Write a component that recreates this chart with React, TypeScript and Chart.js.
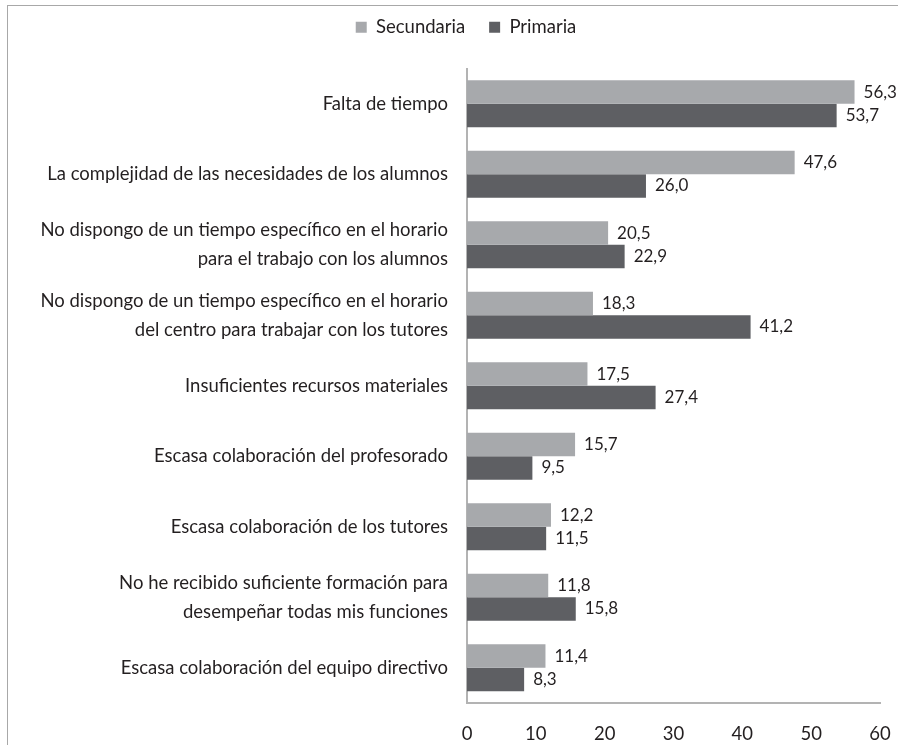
import React, { useEffect, useRef } from "react";
import { Chart, registerables } from "chart.js";

Chart.register(...registerables);

const categories: (string | string[])[] = [
  "Falta de tiempo",
  "La complejidad de las necesidades de los alumnos",
  ["No dispongo de un tiempo específico en el horario", "para el trabajo con los alumnos"],
  ["No dispongo de un tiempo específico en el horario", "del centro para trabajar con los tutores"],
  "Insuficientes recursos materiales",
  "Escasa colaboración del profesorado",
  "Escasa colaboración de los tutores",
  ["No he recibido suficiente formación para", "desempeñar todas mis funciones"],
  "Escasa colaboración del equipo directivo",
];

const secundaria = [56.3, 47.6, 20.5, 18.3, 17.5, 15.7, 12.2, 11.8, 11.4];
const primaria = [53.7, 26.0, 22.9, 41.2, 27.4, 9.5, 11.5, 15.8, 8.3];

const xTicks = [0, 10, 20, 30, 40, 50, 60];

const FONT = "Lato";
const FS = 18.5;
const VFS = 17;
const TEXT = "#231f20";
const LIGHT = "#a7a9ac";
const DARK = "#5e5f63";
const AXIS = "#b3b3b3";

const legendSpacing = {
  id: "legendSpacing",
  beforeInit(chart: any) {
    const legend = chart.legend;
    const origFit = legend.fit;
    legend.fit = function () {
      origFit.call(this);
      this.height += 22;
    };
    const origDraw = legend.draw;
    legend.draw = function (...args: any[]) {
      const ctx = this.ctx;
      ctx.save();
      ctx.translate(22, 0);
      origDraw.apply(this, args);
      ctx.restore();
    };
  },
};

const valueLabels = {
  id: "valueLabels",
  afterDatasetsDraw(chart: any) {
    const ctx = chart.ctx;
    ctx.save();
    ctx.font = `${VFS}px ${FONT}`;
    ctx.fillStyle = TEXT;
    ctx.textAlign = "left";
    ctx.textBaseline = "middle";
    chart.data.datasets.forEach((ds: any, i: number) => {
      const meta = chart.getDatasetMeta(i);
      meta.data.forEach((bar: any, j: number) => {
        const v = ds.data[j] as number;
        ctx.fillText(v.toFixed(1).replace(".", ","), bar.x + 9, bar.y);
      });
    });
    ctx.restore();
  },
};

export default function App() {
  const ref = useRef<HTMLCanvasElement>(null);
  useEffect(() => {
    if (!ref.current) return;
    const chart = new Chart(ref.current, {
      type: "bar",
      data: {
        labels: categories,
        datasets: [
          { label: "Secundaria", data: secundaria, backgroundColor: LIGHT },
          { label: "Primaria", data: primaria, backgroundColor: DARK },
        ],
      },
      options: {
        indexAxis: "y",
        responsive: false,
        animation: false,
        layout: { padding: { top: -12, right: 18, bottom: 0, left: 0 } },
        datasets: { bar: { categoryPercentage: 0.665, barPercentage: 1 } },
        plugins: {
          legend: {
            position: "top",
            labels: {
              boxWidth: 11,
              boxHeight: 11,
              padding: 24,
              color: TEXT,
              font: { family: FONT, size: FS },
            },
          },
          tooltip: { enabled: false },
        },
        scales: {
          x: {
            min: 0,
            max: 60,
            afterBuildTicks: (scale: any) => {
              scale.ticks = xTicks.map((v) => ({ value: v }));
            },
            afterFit: (scale: any) => {
              scale.height = 42;
              scale.paddingLeft = 0;
              scale.paddingRight = 0;
            },
            grid: { display: false, drawTicks: false },
            border: { display: true, color: AXIS, width: 2 },
            ticks: {
              padding: 20,
              color: TEXT,
              font: { family: FONT, size: FS },
              maxRotation: 0,
            },
          },
          y: {
            afterFit: (scale: any) => {
              scale.width = 459;
            },
            grid: { display: false, drawTicks: false },
            border: { display: true, color: AXIS, width: 2 },
            ticks: {
              padding: 19,
              color: TEXT,
              font: { family: FONT, size: FS, lineHeight: 1.55 },
              autoSkip: false,
            },
          },
        },
      },
      plugins: [legendSpacing, valueLabels],
    });
    return () => chart.destroy();
  }, []);
  return (
    <div
      style={{
        position: "absolute",
        left: 7,
        top: 5,
        borderTop: "1px solid #a8a8a8",
        borderLeft: "1px solid #a8a8a8",
        width: 890,
        height: 739,
      }}
    >
      <canvas ref={ref} width={890} height={739} style={{ display: "block" }} />
    </div>
  );
}
